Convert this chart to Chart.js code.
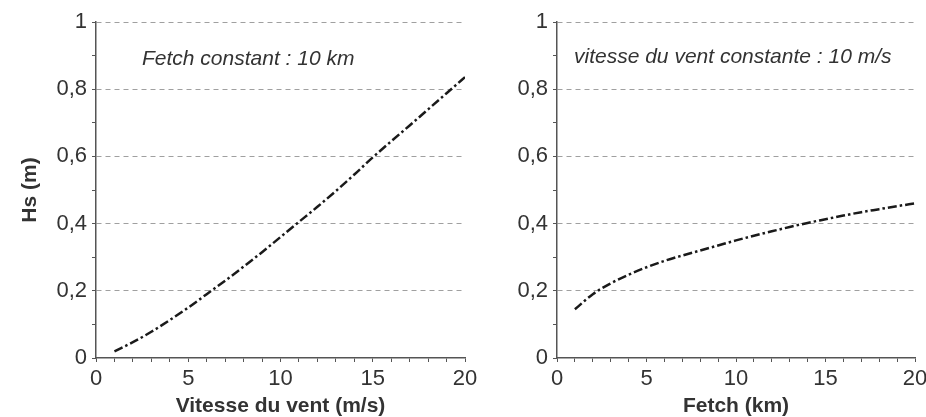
<!DOCTYPE html>
<html>
<head>
<meta charset="utf-8">
<script src="https://cdn.jsdelivr.net/npm/chart.js@4/dist/chart.umd.min.js"></script>
<style>
  body { margin: 0; background: #fff; width: 926px; height: 417px; overflow: hidden; position: relative; font-family: 'Liberation Sans', Arial, sans-serif; }
  canvas { position: absolute; top: 0; }
  .note { position: absolute; font-size: 21px; line-height: 21px; font-style: italic; color: #333; white-space: nowrap; }
</style>
</head>
<body>
<canvas id="chartVent" width="480" height="417" style="left:0"></canvas>
<canvas id="chartFetch" width="446" height="417" style="left:480px"></canvas>
<div class="note" style="left:142px; top:47px">Fetch constant : 10 km</div>
<div class="note" style="left:574px; top:45px">vitesse du vent constante : 10 m/s</div>
<script>
// vitesse du vent (m/s) -> Hs (m), fetch 10 km
const windSpeed = [1, 2, 3, 4, 5, 6, 7, 8, 9, 10, 11, 12, 13, 14, 15, 16, 17, 18, 19, 20];
const hsWind = [0.02, 0.047, 0.078, 0.113, 0.15, 0.19, 0.23, 0.272, 0.315, 0.36,
                0.405, 0.45, 0.497, 0.546, 0.597, 0.645, 0.692, 0.74, 0.788, 0.836];

// fetch (km) -> Hs (m), vent 10 m/s
const fetchKm = [1, 2, 3, 4, 5, 6, 7, 8, 9, 10, 11, 12, 13, 14, 15, 16, 17, 18, 19, 20];
const hsFetch = [0.145, 0.19, 0.222, 0.248, 0.27, 0.289, 0.305, 0.32, 0.335, 0.35,
                 0.364, 0.377, 0.39, 0.402, 0.413, 0.424, 0.434, 0.443, 0.452, 0.46];

const xTickLabels = [0, 5, 10, 15, 20];
const yTickLabels = ['0', '0,2', '0,4', '0,6', '0,8', '1'];

const fontFamily = "'Liberation Sans', Arial, sans-serif";

function makeChart(id, xs, ys, xTitle, yTitle, yWidth, padRight) {
    return new Chart(document.getElementById(id), {
        type: 'line',
        data: {
            datasets: [{
                data: xs.map((x, i) => ({ x: x, y: ys[i] })),
                borderColor: '#1a1a1a',
                borderWidth: 2.5,
                borderDash: [9, 3, 2.5, 3],
                pointRadius: 0,
                cubicInterpolationMode: 'monotone',
                fill: false
            }]
        },
        options: {
            responsive: false,
            animation: false,
            events: [],
            layout: { padding: { top: 22, right: padRight, bottom: 0, left: 0 } },
            plugins: { legend: { display: false }, tooltip: { enabled: false } },
            scales: {
                x: {
                    type: 'linear',
                    min: 0, max: 20,
                    afterFit: s => { s.height = 59; s.paddingRight = 0; },
                    border: { display: true, color: '#555', width: 1.5 },
                    grid: { drawOnChartArea: false, drawTicks: true, tickLength: 4, tickColor: '#555', tickWidth: 1 },
                    ticks: {
                        stepSize: 1, autoSkip: false, maxRotation: 0, padding: 4,
                        color: '#333', font: { family: fontFamily, size: 22 },
                        callback: v => xTickLabels.includes(v) ? String(v) : ''
                    },
                    title: {
                        display: true, text: xTitle, color: '#333',
                        font: { family: fontFamily, size: 21, weight: 'bold', lineHeight: 1 },
                        padding: { top: 0, bottom: 0 }
                    }
                },
                y: {
                    min: 0, max: 1,
                    afterFit: s => { s.width = yWidth; },
                    border: { display: true, color: '#555', width: 1.5, dash: [5, 4] },
                    grid: {
                        color: ctx => {
                            const k = Math.round(ctx.tick.value * 10);
                            return (k > 0 && k % 2 === 0) ? '#a0a0a0' : 'rgba(0,0,0,0)';
                        },
                        lineWidth: 1,
                        tickLength: 4, tickColor: '#555', tickWidth: 1, tickBorderDash: []
                    },
                    ticks: {
                        stepSize: 0.1, autoSkip: false, padding: 5,
                        color: '#333', font: { family: fontFamily, size: 22 },
                        callback: v => {
                            const k = Math.round(v * 10);
                            return k % 2 === 0 ? yTickLabels[k / 2] : '';
                        }
                    },
                    title: {
                        display: !!yTitle, text: yTitle, color: '#333',
                        font: { family: fontFamily, size: 21, weight: 'bold', lineHeight: 1 },
                        padding: { top: 20, bottom: 0 }
                    }
                }
            }
        }
    });
}

makeChart('chartVent', windSpeed, hsWind, 'Vitesse du vent (m/s)', 'Hs (m)', 96, 15);
makeChart('chartFetch', fetchKm, hsFetch, 'Fetch (km)', '', 77, 11);
</script>
</body>
</html>
